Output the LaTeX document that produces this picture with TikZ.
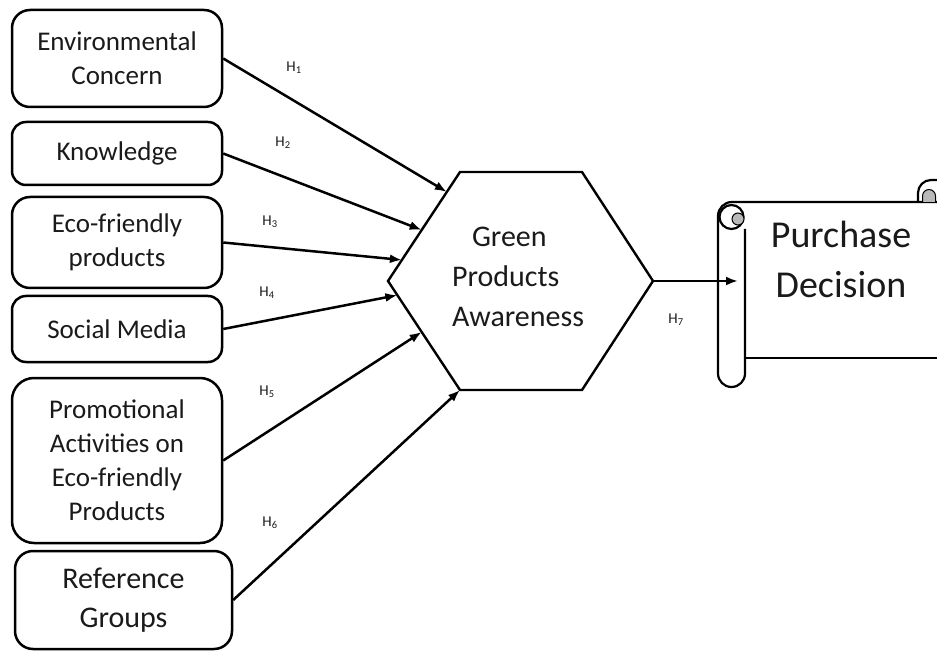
\documentclass[tikz,border=0pt]{standalone}
\usepackage{fontspec}
\setmainfont{Carlito}
\usetikzlibrary{arrows.meta,calc}
\definecolor{ink}{HTML}{1A1A1A}
\begin{document}
\begin{tikzpicture}[x=1pt,y=-1pt,
  factor/.style={draw, line width=2.5pt, rounded corners=18pt, align=center, inner sep=0pt, text=ink, font=\fontsize{27}{34}\selectfont},
  link/.style={line width=2.5pt, -{Latex[length=12pt,width=9pt]}},
  hlabel/.style={font=\fontsize{15}{17}\selectfont, inner sep=0pt, text=ink},
  edge/.style={line width=2.4pt, line join=miter},
  scrolline/.style={line width=2.2pt}]
\useasboundingbox (0,0) rectangle (937,652);

% factor boxes
\node[factor, minimum width=210pt, minimum height=97pt] (env) at (117,58.5) {Environmental\\Concern};
\node[factor, minimum width=210pt, minimum height=63pt, rounded corners=14pt] (know) at (117,153.5) {Knowledge};
\node[factor, minimum width=210pt, minimum height=91pt] (eco) at (117,242.5) {Eco-friendly\\products};
\node[factor, minimum width=210pt, minimum height=66pt, rounded corners=14pt] (soc) at (117,329) {Social Media};
\node[factor, minimum width=210pt, minimum height=165pt, rounded corners=22pt] (promo) at (117,460.5) {Promotional\\Activities on\\Eco-friendly\\Products};
\node[factor, minimum width=217pt, minimum height=98pt, font=\fontsize{30}{39}\selectfont] (ref) at (123.5,600) {Reference\\Groups};

% hexagon
\coordinate (hTL) at (460,172);
\coordinate (hTR) at (582,172);
\coordinate (hR)  at (653,281);
\coordinate (hBR) at (582,390);
\coordinate (hBL) at (460,390);
\coordinate (hL)  at (388,281);
\draw[edge] (hTL) -- (hTR) -- (hR) -- (hBR) -- (hBL) -- (hL) -- cycle;
\node[font=\fontsize{30}{40}\selectfont, align=left, text=ink, inner sep=0pt] (gpa) at (518,277) {\hspace*{20pt}Green\\Products\\Awareness};

% arrow end points on the hexagon
\coordinate (t1) at ($(hTL)!0.183!(hL)$);
\coordinate (t2) at ($(hTL)!0.532!(hL)$);
\coordinate (t3) at ($(hTL)!0.807!(hL)$);
\coordinate (t4) at ($(hL)!0.13!(hBL)$);
\coordinate (t5) at ($(hL)!0.468!(hBL)$);
\coordinate (t6) at (hBL);

% scroll (Purchase Decision)
\begin{scope}
\clip (0,0) rectangle (937,652);
\fill[white] (718,202) rectangle (960,358);
\draw[scrolline] (745,229) -- (745,373.5) arc[start angle=0, end angle=-180, radius=13.5pt]
  -- (718,216) arc[start angle=180, end angle=90, radius=14pt] -- (960,202);
\draw[scrolline] (745,358) -- (960,358);
\draw[scrolline] (731.5,217) circle[radius=12pt];
\draw[line width=1pt, fill=gray!55] (738,219) circle[radius=6pt];
\draw[scrolline] (918,202) -- (918,193) arc[start angle=180, end angle=90, radius=13pt] -- (960,180);
\draw[line width=1pt, fill=gray!55] (922.5,202) -- (922.5,196) arc[start angle=180, end angle=0, radius=6.5pt] -- (935.5,202);
\end{scope}
\node[font=\fontsize{38}{50}\selectfont, align=center, text=ink, inner sep=0pt] (pd) at (841,259) {Purchase\\Decision};
\coordinate (pdin) at (738,281);

% connectors
\draw[link] (env.east) -- (t1);
\draw[link] (know.east) -- (t2);
\draw[link] (eco.east) -- (t3);
\draw[link] (soc.east) -- (t4);
\draw[link] (promo.east) -- (t5);
\draw[link] (ref.east) -- (t6);
\draw[link] (hR) -- (pdin);

% hypothesis labels
\node[hlabel] (l1) at (294,68) {H\textsubscript{1}};
\node[hlabel] (l2) at (283,143) {H\textsubscript{2}};
\node[hlabel] (l3) at (270,222) {H\textsubscript{3}};
\node[hlabel] (l4) at (267,293) {H\textsubscript{4}};
\node[hlabel] (l5) at (267,392) {H\textsubscript{5}};
\node[hlabel] (l6) at (270,523) {H\textsubscript{6}};
\node[hlabel] (l7) at (676,320) {H\textsubscript{7}};
\end{tikzpicture}
\end{document}
